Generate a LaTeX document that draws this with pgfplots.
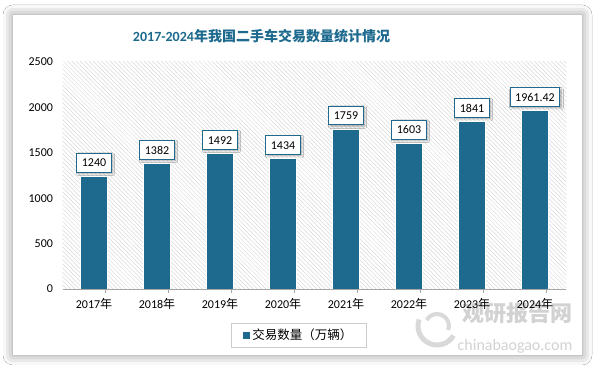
\documentclass[border=0pt]{standalone}
\usepackage{pgfplots}
\pgfplotsset{compat=1.18}
\usepackage{pgfplotstable}
\usepackage{fontspec}
\setmainfont{Carlito}
\newfontfamily\cjk{Noto Sans CJK SC}
\usetikzlibrary{patterns.meta,shadows.blur}
\definecolor{barcol}{HTML}{1D6A8E}
\pgfplotstableread{
x y lab
0 1240 1240
1 1382 1382
2 1492 1492
3 1434 1434
4 1759 1759
5 1603 1603
6 1841 1841
7 1961.42 1961.42
}\datatable
\begin{document}
\begin{tikzpicture}[x=1pt,y=1pt]
\useasboundingbox (0,0) rectangle (597,371);
\fill[white] (0,0) rectangle (597,371);
\fill[white, blur shadow={shadow xshift=0pt, shadow yshift=0pt, shadow blur radius=10pt, shadow opacity=45}] (13,16) rectangle (582,356);
\node[font=\fontsize{14}{16}\selectfont, text=barcol] at (261.5,335) {{\bfseries 2017-2024}{\cjk\bfseries 年我国二手车交易数量统计情况}};
% watermark
\draw[gray!30, line width=5pt] (437,45) ++(160:19) arc(160:330:19);
\draw[gray!30, line width=4pt] (437,45) ++(-20:12) arc(-20:150:12);
\node[text=gray!35, font={\cjk\bfseries\fontsize{22}{24}\selectfont}] at (517,58) {观研报告网};
\node[text=gray!35, font=\fontsize{16}{18}\selectfont] at (515,25) {chinabaogao.com};
\begin{axis}[
  at={(62.5pt,82pt)}, anchor=south west, scale only axis,
  width=504pt, height=227pt,
  ymin=0, ymax=2500, ytick={0,500,...,2500},
  xmin=-0.5, xmax=7.5, xtick={0,...,7},
  xticklabels={2017{\cjk 年},2018{\cjk 年},2019{\cjk 年},2020{\cjk 年},2021{\cjk 年},2022{\cjk 年},2023{\cjk 年},2024{\cjk 年}},
  axis x line=bottom, axis y line=left,
  y axis line style={draw=none},
  x axis line style={-, draw=gray!70, line width=0.8pt},
  major tick length=0pt,
  extra x ticks={0.175,1.175,2.175,3.175,4.175,5.175,6.175,7.175},
  extra x tick labels={},
  extra x tick style={major tick length=4pt, tick align=outside, tick style={gray!70, line width=0.6pt}},
  axis background/.style={pattern={Lines[angle=-45,distance=3pt,line width=0.5pt]}, pattern color=gray!30},
  ticklabel style={font=\fontsize{12}{14}\selectfont},
  /pgf/number format/assume math mode=true,
  /pgf/number format/1000 sep={},
  yticklabel style={xshift=-6pt},
  xticklabel style={yshift=-6pt},
  ybar, bar width=27pt,
  nodes near coords, point meta=explicit symbolic,
  every node near coord/.style={anchor=south, yshift=4pt, draw=barcol, fill=white, line width=0.9pt,
     font=\fontsize{12}{14}\selectfont, text=black, inner xsep=5pt, inner ysep=5pt, text height=8.5pt, text depth=0pt,
     blur shadow={shadow xshift=1.5pt, shadow yshift=-1.5pt, shadow blur radius=2pt, shadow opacity=35}},
  legend style={at={(0.469,-0.2026)}, anchor=center, draw=gray!40, font=\fontsize{12.5}{14}\selectfont,
     inner xsep=12pt, inner ysep=4pt},
  legend image code/.code={\fill[barcol] (0pt,-3pt) rectangle (6pt,3pt);},
]
\addplot[fill=barcol, draw=white, line width=0.8pt] table[x=x,y=y,meta=lab]{\datatable};
\addlegendentry{\cjk 交易数量（万辆）}
\end{axis}
\end{tikzpicture}
\end{document}
